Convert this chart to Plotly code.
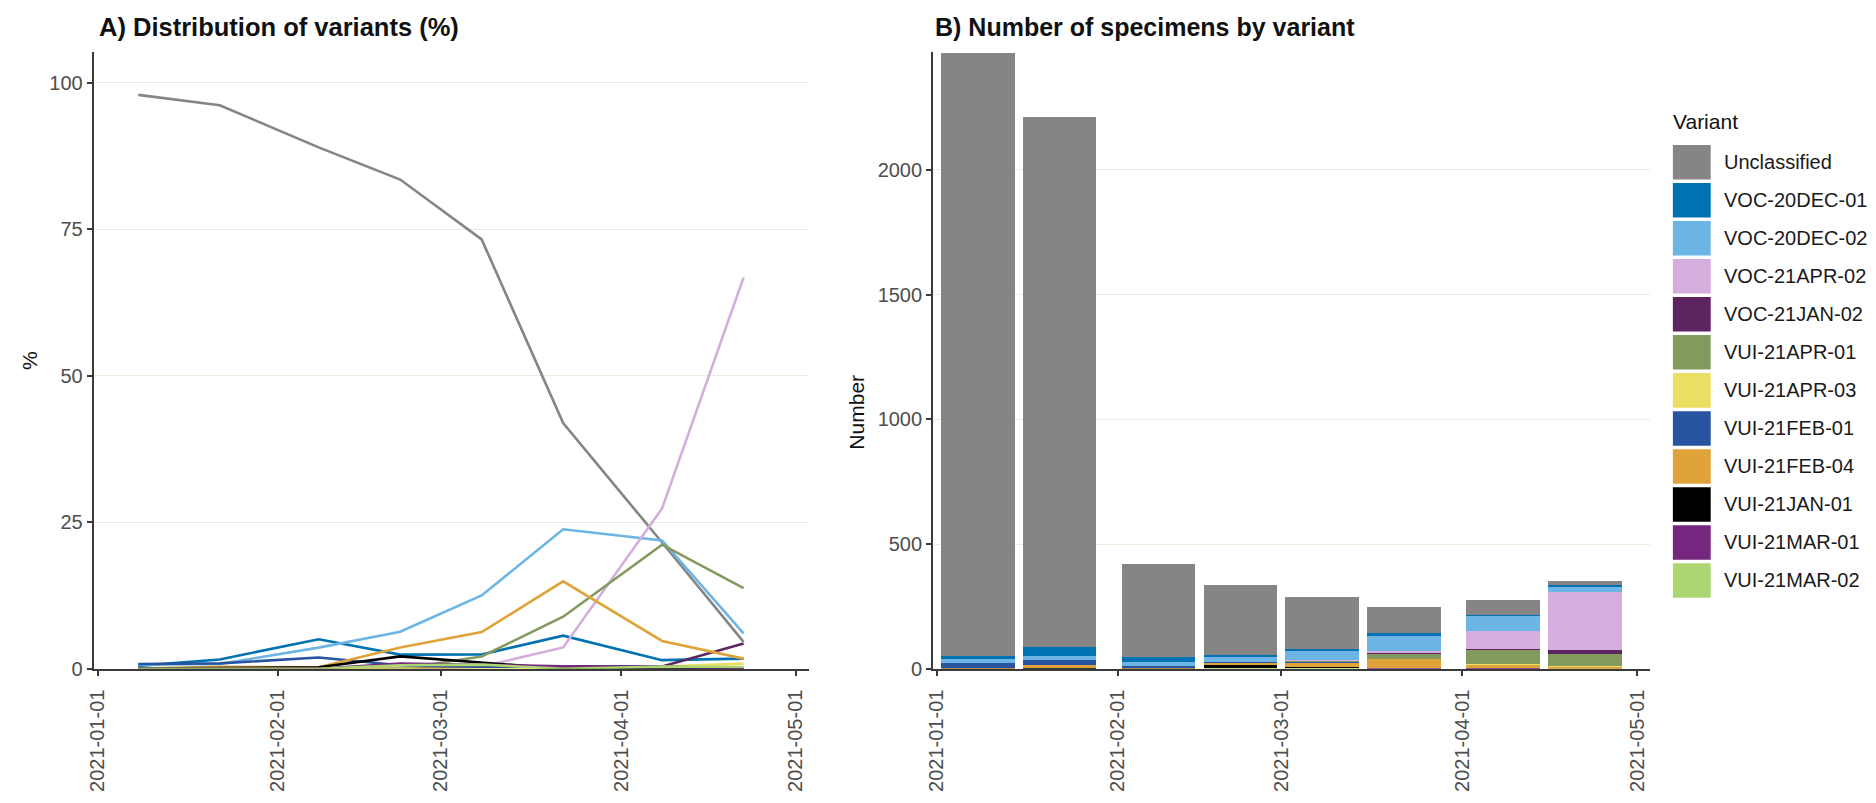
import numpy as np
import plotly.graph_objects as go

W, H = 1876, 803

# Sampling dates (semi-monthly periods)
dates = ["2021-01-08", "2021-01-22", "2021-02-08", "2021-02-22",
         "2021-03-08", "2021-03-22", "2021-04-08", "2021-04-22"]

variants = ["Unclassified", "VOC-20DEC-01", "VOC-20DEC-02", "VOC-21APR-02",
            "VOC-21JAN-02", "VUI-21APR-01", "VUI-21APR-03", "VUI-21FEB-01",
            "VUI-21FEB-04", "VUI-21JAN-01", "VUI-21MAR-01", "VUI-21MAR-02"]

colors = ["#858585", "#0072B2", "#6CB5E4", "#D5AEDD",
          "#5C2461", "#829A5E", "#EADF62", "#2654A0",
          "#E0A33A", "#000000", "#75267E", "#ABD671"]

# Specimen counts per variant and period
unclassified = [2418, 2127, 371, 278, 211, 104, 59, 16]
voc_20dec_01 = [12, 35, 21, 8, 7, 14, 4, 6]
voc_20dec_02 = [17, 18, 15, 21, 36, 59, 60, 21]
voc_21apr_02 = [0, 0, 0, 0, 1, 9, 75, 233]
voc_21jan_02 = [0, 0, 0, 0, 1, 1, 1, 15]
vui_21apr_01 = [0, 0, 0, 0, 6, 22, 58, 48]
vui_21apr_03 = [0, 0, 0, 0, 0, 0, 1, 3]
vui_21feb_01 = [20, 20, 8, 2, 1, 1, 1, 0]
vui_21feb_04 = [1, 7, 1, 12, 18, 37, 13, 6]
vui_21jan_01 = [1, 4, 1, 7, 3, 0, 0, 0]
vui_21mar_01 = [0, 0, 0, 3, 2, 1, 1, 0]
vui_21mar_02 = [0, 1, 0, 2, 2, 0, 1, 1]

counts = [unclassified, voc_20dec_01, voc_20dec_02, voc_21apr_02,
          voc_21jan_02, vui_21apr_01, vui_21apr_03, vui_21feb_01,
          vui_21feb_04, vui_21jan_01, vui_21mar_01, vui_21mar_02]

count_arr = np.array(counts, dtype=float)
totals = count_arr.sum(axis=0)
pct = count_arr / totals * 100

FONT = "Liberation Sans, Arial, sans-serif"
TICK_COL = "#4D4D4D"
GRID_COL = "#EAEDDB"
AXIS_COL = "#3A3A3A"


def px(x):
    return x / W


def py(y):
    return 1 - y / H


fig = go.Figure()

# Panel A: percentage lines
for name, col, vals in zip(variants, colors, pct):
    fig.add_trace(go.Scatter(
        x=dates, y=vals, mode="lines", name=name,
        line=dict(color=col, width=2.6),
        xaxis="x", yaxis="y", showlegend=False))

# Panel B: stacked counts (first level on top)
for name, col, vals in reversed(list(zip(variants, colors, counts))):
    fig.add_trace(go.Bar(
        x=dates, y=vals, name=name, marker=dict(color=col, line=dict(width=0)),
        width=12.6 * 86400000, xaxis="x2", yaxis="y2", showlegend=False))

x_range = ["2020-12-31 08:00", "2021-05-03 04:00"]
month_ticks = ["2021-01-01", "2021-02-01", "2021-03-01", "2021-04-01", "2021-05-01"]

xaxis_common = dict(
    type="date", range=x_range, tickvals=month_ticks, tickformat="%Y-%m-%d",
    tickangle=-90, ticks="outside", ticklen=5, tickwidth=1.5, tickcolor=AXIS_COL,
    ticklabelstandoff=6,
    showline=True, linecolor=AXIS_COL, linewidth=1.8, showgrid=False, zeroline=False,
    tickfont=dict(family=FONT, size=20, color=TICK_COL))

yaxis_common = dict(
    ticks="outside", ticklen=5, tickwidth=1.5, tickcolor=AXIS_COL,
    showline=True, linecolor=AXIS_COL, linewidth=1.8,
    showgrid=True, gridcolor=GRID_COL, gridwidth=1.3, zeroline=False,
    tickfont=dict(family=FONT, size=20, color=TICK_COL))

y_dom = [py(678), py(53)]

fig.update_layout(
    width=W, height=H, margin=dict(l=0, r=0, t=0, b=0),
    paper_bgcolor="white", plot_bgcolor="white",
    barmode="stack", bargap=0,
    xaxis=dict(domain=[px(86), px(804)], anchor="y", **xaxis_common),
    yaxis=dict(domain=y_dom, anchor="x", range=[0, 105.2],
               tickvals=[0, 25, 50, 75, 100], **yaxis_common),
    xaxis2=dict(domain=[px(929), px(1649)], anchor="y2", **xaxis_common),
    yaxis2=dict(domain=y_dom, anchor="x2", range=[0, 2472],
                tickvals=[0, 500, 1000, 1500, 2000], **yaxis_common),
)


def label(text, x, y, size, xanchor="left", angle=0, color="#111111"):
    return dict(text=text, x=px(x), y=py(y), xref="paper", yref="paper",
                xanchor=xanchor, yanchor="middle", textangle=angle,
                showarrow=False, font=dict(family=FONT, size=size, color=color))


annotations = [
    label("<b>A) Distribution of variants (%)</b>", 89, 27, 25.5),
    label("<b>B) Number of specimens by variant</b>", 929, 27, 25),
    label("%", 21, 365, 21, xanchor="center", angle=-90),
    label("Number", 852, 418, 21, xanchor="center", angle=-90),
    label("Variant", 1670, 123, 21),
]

shapes = []
key_top, key_step, key_h = 147, 38.55, 35
for i, (name, col) in enumerate(zip(variants, colors)):
    top = key_top + i * key_step
    shapes.append(dict(type="rect", xref="paper", yref="paper",
                       x0=px(1672), x1=px(1710), y0=py(top + key_h), y1=py(top),
                       fillcolor=col, line=dict(width=0)))
    annotations.append(label(name, 1721, top + key_h / 2, 20, color="#1A1A1A"))

fig.update_layout(annotations=annotations, shapes=shapes)

fig.write_html("out.html")
